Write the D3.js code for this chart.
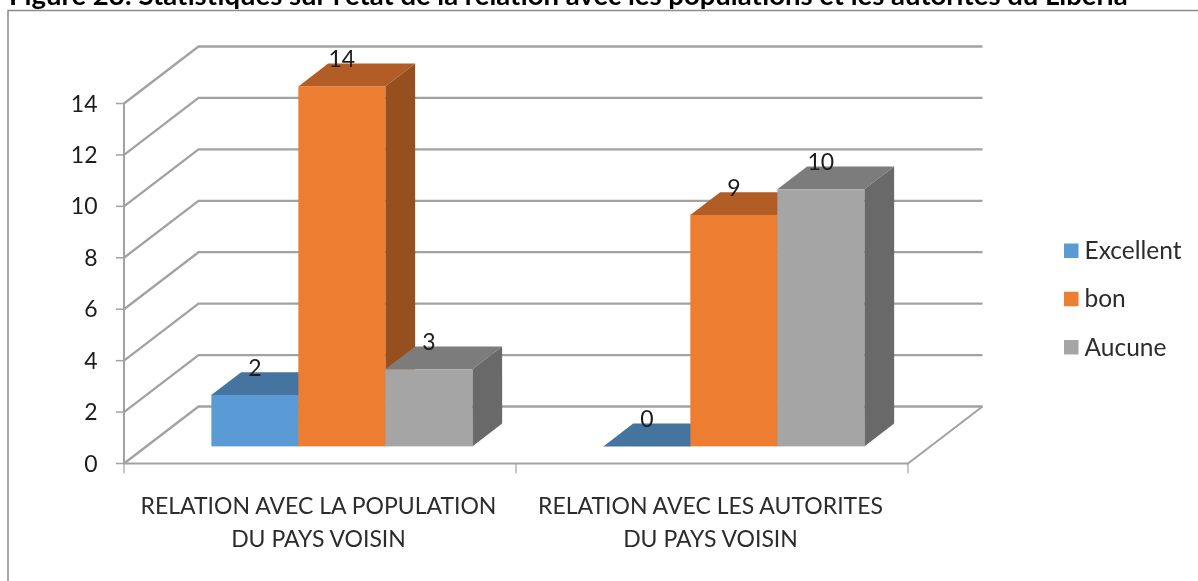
<!DOCTYPE html>
<html><head><meta charset="utf-8">
<script src="https://cdnjs.cloudflare.com/ajax/libs/d3/7.8.5/d3.min.js"></script>
<style>html,body{margin:0;padding:0;background:#fff}svg{display:block;filter:blur(0.45px)}</style>
</head><body><svg id="c" width="1198" height="581"></svg>
<script>
const titleText = "Figure 23: Statistiques sur l'état de la relation avec les populations et les autorités du Liberia";
const categories = ["RELATION AVEC LA POPULATION|DU PAYS VOISIN", "RELATION AVEC LES AUTORITES|DU PAYS VOISIN"];
const seriesNames = ["Excellent", "bon", "Aucune"];
const excellent = [2, 0];
const bon = [14, 9];
const aucune = [3, 10];
const yTicks = [0, 2, 4, 6, 8, 10, 12, 14];
const front = ["#5B9BD5", "#ED7D31", "#A5A5A5"];
const topFace = ["#44749F", "#B25D25", "#7C7C7C"];
const sideFace = ["#3C6689", "#964F1E", "#696969"];
const values = [excellent, bon, aucune];

const font = "Lato, sans-serif";
const svg = d3.select("#c");
const x = d3.scaleBand().domain(categories).range([124, 908]);
const y = d3.scaleLinear().domain([0, 14]).range([463.5, 103.5]);
const s = d3.scaleBand().domain(seriesNames).range([x.bandwidth()/2 - 131, x.bandwidth()/2 + 130]);
const D = {x: 74.5, y: -57};
const P = (px, v, d) => [px + D.x*d, y(v) + D.y*d];
const line = d3.line();
const grid = "#A2A2A2";

svg.append("text").attr("x", 9).attr("y", 5).attr("font-family", font)
  .attr("font-weight", 700).attr("font-size", 27.5).attr("fill", "#000").text(titleText);

svg.append("path").attr("d", "M8,581V10.5H1198").attr("fill", "none").attr("stroke", "#8C8C8C").attr("stroke-width", 1.5);

const g = svg.append("g");
yTicks.forEach(t => {
  g.append("path").attr("fill", "none").attr("stroke", grid).attr("stroke-width", 2.3)
    .attr("d", line([P(124, t, 0), P(124, t, 1), P(908, t, 1)]));
  g.append("path").attr("stroke", grid).attr("stroke-width", 1.5)
    .attr("d", line([[116, y(t)], [124, y(t)]]));
  g.append("text").attr("x", 97.5).attr("y", y(t)).attr("dy", "0.35em").attr("text-anchor", "end")
    .attr("font-family", font).attr("font-size", 23).attr("fill", "#1c1c1c").text(t);
});
g.append("path").attr("fill", "none").attr("stroke", grid).attr("stroke-width", 2)
  .attr("d", line([P(124, 14, 0), P(124, 0, 0), P(908, 0, 0), P(908, 0, 1)]));
[...categories.map(c => x(c)), 908].forEach(px => {
  g.append("path").attr("stroke", grid).attr("stroke-width", 1.2).attr("d", line([[px, y(0)], [px, y(0) + 10]]));
});

const d0 = 0.3, d1 = 0.7;
seriesNames.forEach((name, i) => {
  categories.forEach((c, j) => {
    const v = values[i][j];
    const xl = x(c) + s(name), xr = xl + s.bandwidth();
    const b = g.append("g");
    b.append("path").attr("fill", topFace[i]).attr("d", line([P(xl, v, d0), P(xr, v, d0), P(xr, v, d1), P(xl, v, d1)]) + "Z");
    if (v > 0) {
      b.append("path").attr("fill", sideFace[i]).attr("d", line([P(xr, 0, d0), P(xr, v, d0), P(xr, v, d1), P(xr, 0, d1)]) + "Z");
      const [fx, fy] = P(xl, v, d0);
      b.append("rect").attr("x", fx).attr("y", fy).attr("width", xr - xl).attr("height", P(xl, 0, d0)[1] - fy).attr("fill", front[i]);
    }
  });
});
seriesNames.forEach((name, i) => {
  categories.forEach((c, j) => {
    const v = values[i][j];
    const xl = x(c) + s(name);
    const [fx, fy] = P(xl + s.bandwidth()/2, v, d0);
    g.append("text").attr("x", fx).attr("y", fy - 27).attr("dy", "0.35em").attr("text-anchor", "middle")
      .attr("font-family", font).attr("font-size", 23).attr("fill", "#1c1c1c").text(v);
  });
});
categories.forEach(c => {
  c.split("|").forEach((t, k) => {
    g.append("text").attr("x", x(c) + x.bandwidth()/2 - 1.5).attr("y", 514 + k*32.5).attr("text-anchor", "middle")
      .attr("font-family", font).attr("font-size", 23).attr("fill", "#2c2c2c").text(t);
  });
});
const legY = d3.scalePoint().domain(seriesNames).range([250.5, 347]);
seriesNames.forEach((name, i) => {
  g.append("rect").attr("x", 1064).attr("y", legY(name) - 7).attr("width", 14.5).attr("height", 14.5).attr("fill", front[i]);
  g.append("text").attr("x", 1084.5).attr("y", legY(name)).attr("dy", "0.35em").attr("font-family", font).attr("font-size", 24.5).attr("fill", "#2c2c2c").text(name);
});
</script></body></html>
